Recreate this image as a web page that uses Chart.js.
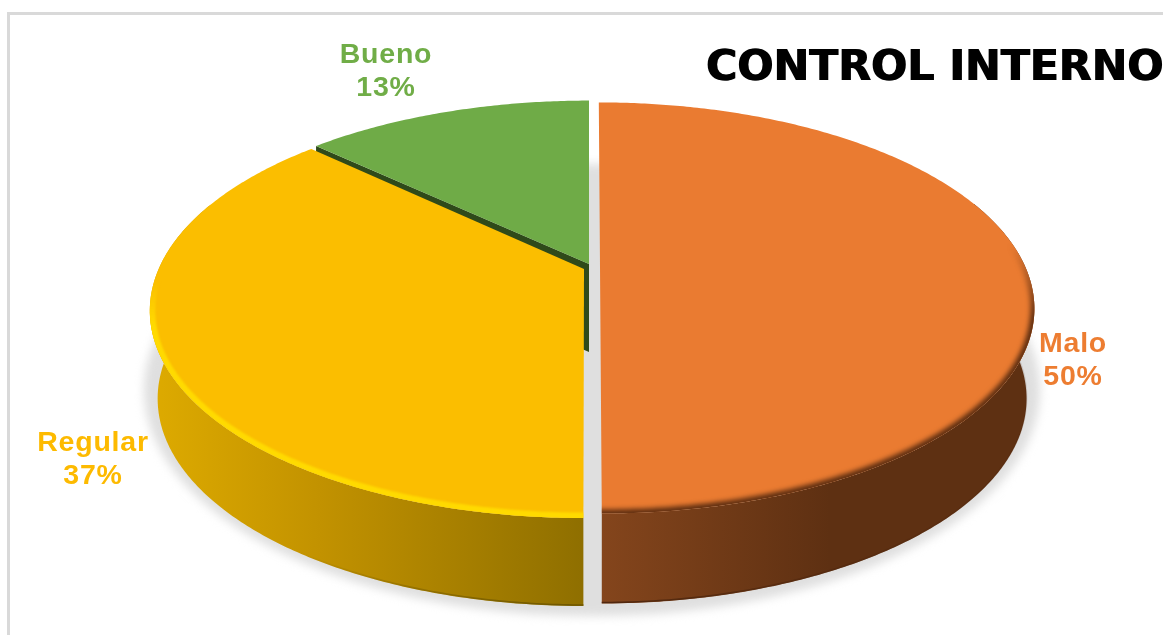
<!DOCTYPE html>
<html>
<head>
<meta charset="utf-8">
<style>
  html, body { margin: 0; padding: 0; background: #fff; overflow: hidden; }
  canvas { display: block; }
</style>
<script src="https://cdn.jsdelivr.net/npm/chart.js@4/dist/chart.umd.js"></script>
</head>
<body>
<canvas id="control_interno" width="1163" height="635"></canvas>
<script>
// data
const categories = ["Malo", "Regular", "Bueno"];
const percents = [50, 37, 13];
const sliceColors = ["#EA7B31", "#FBBE00", "#6FAB47"];
const labelColors = ["#ED7D31", "#FDBA00", "#70AD47"];
const chartTitle = "CONTROL INTERNO";

// look of each slice: shift from the pie centre, lean of the cut, vertical scale, wall
const looks = [
  { dx: 11, dy: 0, lean: 0.0073, sy: 0.986, depth: 90, wallFrom: -20, wallTo: 90, wall: ["#84451C", "#5E3012", "#5E3012"], stops: [602, 830, 1030], rim: "#5A2C10", rimFrom: -20, rimTo: 92, rimBlur: 2.5, rimWidth: 8, rimFade: [245, 320] },
  { dx: -5, dy: 2, lean: -0.0025, sy: 0.996, depth: 88, wallFrom: 90, wallTo: 200, wall: ["#DDAA00", "#C29200", "#8F6F00"], stops: [155, 320, 583], rim: "#FFDA00", rimFrom: 88, rimTo: 200, rimBlur: 1.2, rimWidth: 11, rimFade: [280, 325] },
  { dx: 0, dy: -3, lean: 0, sy: 0.979, depth: 88, wall: ["#2F4A1A", "#2F4A1A", "#2F4A1A"], stops: [300, 400, 589] },
];
// centre of the two text lines next to each slice
const labelSpots = [[1073, 344], [93, 443], [386, 55]];

// perspective of the tilted disc
const TILT = 0.199;
const STRETCH_X = 2.127;
const STRETCH_Y = 1.001;
const BASE_SHRINK = 0.982;
const DEG = Math.PI / 180;

function project(arc, look, angle, depth) {
  const u = Math.cos(angle);
  const v = -Math.sin(angle);
  const s = 1 + TILT * v;
  const r = arc.outerRadius;
  const yy = -(r * STRETCH_Y * look.sy * v) / s;
  let xx = (r * STRETCH_X * u) / s + yy * look.lean;
  if (depth) xx *= BASE_SHRINK;
  return [arc.x + look.dx + xx, arc.y + look.dy + yy + (depth || 0)];
}

function rimPoints(arc, look, from, to, depth) {
  const pts = [];
  const steps = Math.max(2, Math.ceil(Math.abs(to - from) / 0.01));
  for (let i = 0; i <= steps; i++) {
    pts.push(project(arc, look, from + ((to - from) * i) / steps, depth));
  }
  return pts;
}

function tracePoints(ctx, pts) {
  pts.forEach((p, i) => (i ? ctx.lineTo(p[0], p[1]) : ctx.moveTo(p[0], p[1])));
}

function topPath(ctx, arc, look) {
  ctx.beginPath();
  tracePoints(ctx, [[arc.x + look.dx, arc.y + look.dy]].concat(rimPoints(arc, look, arc.startAngle, arc.endAngle)));
  ctx.closePath();
}

function drawWall(ctx, arc, look) {
  const from = look.wallFrom * DEG;
  const to = look.wallTo * DEG;
  const top = rimPoints(arc, look, from, to);
  const base = rimPoints(arc, look, from, to, look.depth);
  const grad = ctx.createLinearGradient(look.stops[0], 0, look.stops[2], 0);
  look.wall.forEach((c, i) => {
    grad.addColorStop((look.stops[i] - look.stops[0]) / (look.stops[2] - look.stops[0]), c);
  });
  // one quad per rim step, so the silhouette follows rim and base
  ctx.beginPath();
  for (let i = 0; i < top.length - 1; i++) {
    ctx.moveTo(top[i][0], top[i][1]);
    ctx.lineTo(top[i + 1][0], top[i + 1][1]);
    ctx.lineTo(base[i + 1][0], base[i + 1][1]);
    ctx.lineTo(base[i][0], base[i][1]);
    ctx.closePath();
  }
  ctx.fillStyle = grad;
  ctx.fill();
}

function drawBottomEdge(ctx, arc, look, fade, color) {
  const a = Math.max(arc.startAngle, 0);
  const b = Math.min(arc.endAngle, Math.PI);
  if (b <= a) return;
  const grad = ctx.createLinearGradient(fade[0], 0, fade[1], 0);
  grad.addColorStop(0, color + "00");
  grad.addColorStop(1, color);
  ctx.save();
  ctx.filter = "blur(0.6px)";
  ctx.beginPath();
  tracePoints(ctx, rimPoints(arc, look, a, b, look.depth - 1));
  ctx.strokeStyle = grad;
  ctx.lineWidth = 1.6;
  ctx.stroke();
  ctx.restore();
}

function drawTop(ctx, arc, look, color) {
  topPath(ctx, arc, look);
  ctx.fillStyle = color;
  ctx.fill();
  if (!look.rim) return;
  // soft bevel along the front of the rim, fading out towards the back
  const grad = ctx.createLinearGradient(0, look.rimFade[0], 0, look.rimFade[1]);
  grad.addColorStop(0, look.rim + "00");
  grad.addColorStop(1, look.rim);
  ctx.save();
  topPath(ctx, arc, look);
  ctx.clip();
  ctx.filter = "blur(" + look.rimBlur + "px)";
  ctx.beginPath();
  tracePoints(ctx, rimPoints(arc, look, look.rimFrom * DEG, look.rimTo * DEG, 0));
  ctx.strokeStyle = grad;
  ctx.lineWidth = look.rimWidth;
  ctx.stroke();
  ctx.restore();
}

const pie3d = {
  id: "pie3d",
  beforeDraw(chart) {
    const ctx = chart.ctx;
    // frame of the pasted picture
    ctx.fillStyle = "#D9D9D9";
    ctx.fillRect(7, 12, 1156, 3);
    ctx.fillRect(7, 12, 3, 623);
    // makes the title heavier, it is drawn right after this hook
    ctx.shadowColor = "#000";
    ctx.shadowOffsetX = 1.2;
    ctx.shadowOffsetY = 0.6;
  },
  beforeDatasetsDraw(chart) {
    chart.ctx.shadowColor = "transparent";
    chart.ctx.shadowOffsetX = 0;
    chart.ctx.shadowOffsetY = 0;
  },
  beforeDatasetDraw(chart, args) {
    const ctx = chart.ctx;
    const arcs = args.meta.data;
    const [malo, regular, bueno] = [arcs[0], arcs[1], arcs[2]];

    // floor shadow, it also shows in the gap between the slices
    ctx.save();
    ctx.filter = "blur(5px)";
    ctx.fillStyle = "#DFDFDF";
    ctx.beginPath();
    ctx.ellipse(592, 390, 448, 226, 0, 0, Math.PI * 2);
    ctx.fill();
    ctx.restore();

    // Bueno first, its dark wall stays visible next to Regular
    const b = rimPoints(bueno, looks[2], bueno.startAngle, bueno.endAngle);
    const apex = [bueno.x + looks[2].dx, bueno.y + looks[2].dy];
    ctx.beginPath();
    tracePoints(ctx, [b[0], apex, [apex[0], apex[1] + looks[2].depth], [b[0][0], b[0][1] + looks[2].depth]]);
    ctx.closePath();
    ctx.fillStyle = looks[2].wall[0];
    ctx.fill();
    drawTop(ctx, bueno, looks[2], sliceColors[2]);

    drawWall(ctx, regular, looks[1]);
    drawBottomEdge(ctx, regular, looks[1], [300, 583], "#6E5600");
    drawTop(ctx, regular, looks[1], sliceColors[1]);

    drawWall(ctx, malo, looks[0]);
    drawBottomEdge(ctx, malo, looks[0], [1100, 602], "#4F270E");
    drawTop(ctx, malo, looks[0], sliceColors[0]);
    return false;
  },
  afterDatasetsDraw(chart) {
    const ctx = chart.ctx;
    ctx.save();
    ctx.font = "bold 28.5px 'Liberation Sans'";
    ctx.letterSpacing = "0.8px";
    ctx.textAlign = "center";
    ctx.textBaseline = "middle";
    categories.forEach((name, i) => {
      ctx.fillStyle = labelColors[i];
      ctx.fillText(name, labelSpots[i][0], labelSpots[i][1]);
      ctx.fillText(percents[i] + "%", labelSpots[i][0], labelSpots[i][1] + 33);
    });
    ctx.restore();
  },
};

const ctx = document.getElementById("control_interno").getContext("2d");

new Chart(ctx, {
  type: "pie",
  data: {
    labels: categories,
    datasets: [
      {
        label: "Control interno",
        data: percents,
        backgroundColor: sliceColors,
        borderWidth: 0,
        radius: 200,
      },
    ],
  },
  options: {
    responsive: false,
    animation: false,
    layout: { padding: { left: 15, right: 0, top: 43, bottom: 195 } },
    plugins: {
      legend: { display: false },
      tooltip: { enabled: false },
      title: {
        display: true,
        text: chartTitle,
        align: "end",
        color: "#000",
        font: { family: "'DejaVu Sans'", size: 42.6, weight: "bold" },
        padding: { top: 0, bottom: 0 },
      },
    },
  },
  plugins: [pie3d],
});
</script>
</body>
</html>
